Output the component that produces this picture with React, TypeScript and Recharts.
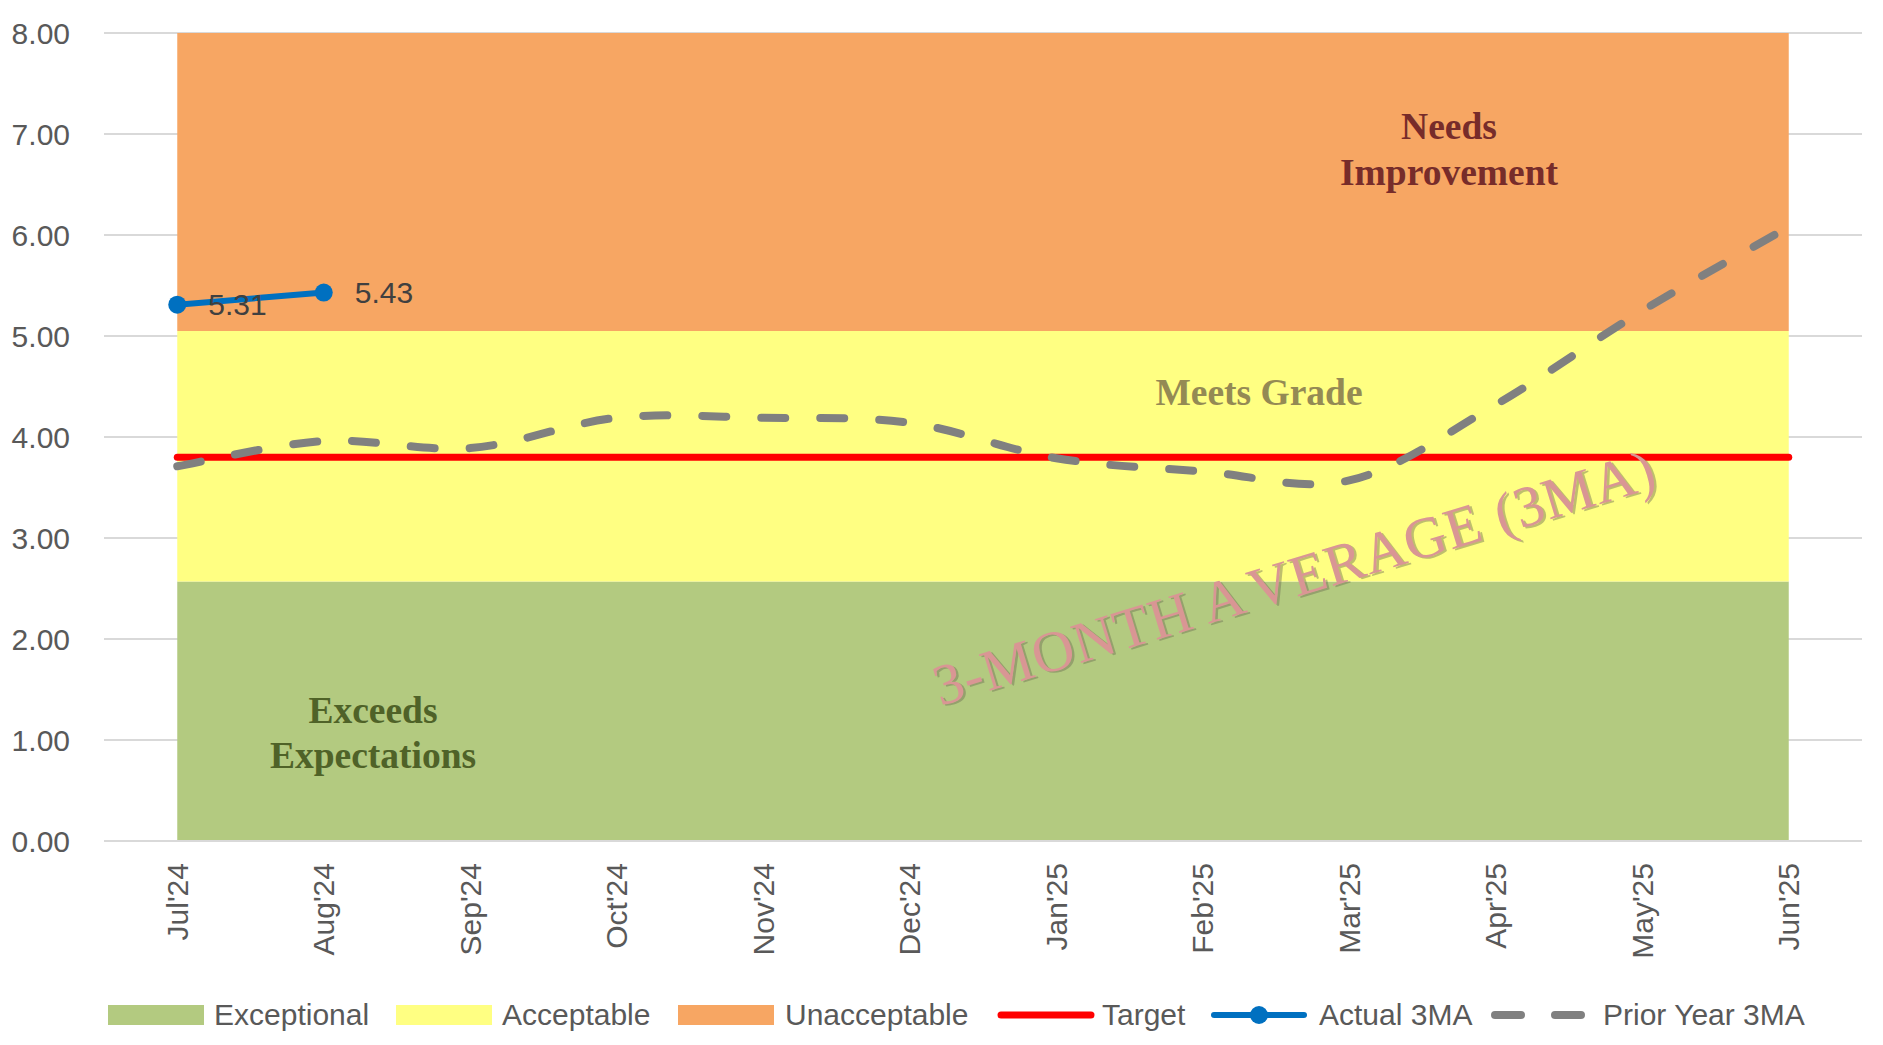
import React from 'react';
import { ComposedChart, Area, Line, XAxis, YAxis, CartesianGrid, LabelList } from 'recharts';

const months = ["Jul'24", "Aug'24", "Sep'24", "Oct'24", "Nov'24", "Dec'24", "Jan'25", "Feb'25", "Mar'25", "Apr'25", "May'25", "Jun'25"];
const exceptional = [2.57, 2.57, 2.57, 2.57, 2.57, 2.57, 2.57, 2.57, 2.57, 2.57, 2.57, 2.57];
const acceptable = [2.48, 2.48, 2.48, 2.48, 2.48, 2.48, 2.48, 2.48, 2.48, 2.48, 2.48, 2.48];
const unacceptable = [2.95, 2.95, 2.95, 2.95, 2.95, 2.95, 2.95, 2.95, 2.95, 2.95, 2.95, 2.95];
const target = [3.8, 3.8, 3.8, 3.8, 3.8, 3.8, 3.8, 3.8, 3.8, 3.8, 3.8, 3.8];
const actual3MA: (number | null)[] = [5.31, 5.43, null, null, null, null, null, null, null, null, null, null];
const priorYear3MA = [3.71, 3.96, 3.89, 4.19, 4.19, 4.14, 3.79, 3.66, 3.57, 4.32, 5.25, 6.08];
const yTicks = [0, 1, 2, 3, 4, 5, 6, 7, 8];

const rows = months.map((m, i) => ({
  month: m,
  exceptional: exceptional[i],
  acceptable: acceptable[i],
  unacceptable: unacceptable[i],
  target: target[i],
  actual: actual3MA[i],
  prior: priorYear3MA[i],
}));

const SANS = '"Liberation Sans", Arial, sans-serif';
const SERIF = '"Liberation Serif", "Times New Roman", serif';
const GREEN = '#B3CA80';
const YELLOW = '#FFFF82';
const ORANGE = '#F7A663';

// Excel-like smoothed line (Catmull-Rom style Bezier)
const excelSmooth: any = (context: any) => {
  let pts: [number, number][] = [];
  return {
    areaStart() {},
    areaEnd() {},
    lineStart() { pts = []; },
    lineEnd() {
      if (!pts.length) return;
      context.moveTo(pts[0][0], pts[0][1]);
      for (let i = 0; i < pts.length - 1; i++) {
        const p0 = pts[i - 1] || pts[i];
        const p1 = pts[i];
        const p2 = pts[i + 1];
        const p3 = pts[i + 2] || pts[i + 1];
        context.bezierCurveTo(
          p1[0] + (p2[0] - p0[0]) / 6, p1[1] + (p2[1] - p0[1]) / 6,
          p2[0] - (p3[0] - p1[0]) / 6, p2[1] - (p3[1] - p1[1]) / 6,
          p2[0], p2[1]
        );
      }
    },
    point(x: number, y: number) { pts.push([+x, +y]); },
  };
};

const XTick = (props: any) => {
  const { x, y, payload } = props;
  return (
    <text x={x} y={y} transform={`rotate(-90, ${x}, ${y})`} textAnchor="end" dominantBaseline="central"
      fill="#595959" fontSize={30} fontFamily={SANS}>{payload.value}</text>
  );
};

const legendItems = [
  { name: 'Exceptional', kind: 'rect', color: GREEN },
  { name: 'Acceptable', kind: 'rect', color: YELLOW },
  { name: 'Unacceptable', kind: 'rect', color: ORANGE },
  { name: 'Target', kind: 'line', color: '#FF0000' },
  { name: 'Actual 3MA', kind: 'dotline', color: '#0070C0' },
  { name: 'Prior Year 3MA', kind: 'dash', color: '#808080' },
];
// legend layout (page pixels): symbol start, text start
const legendSymbolX = [108, 396, 678, 997, 1210, 1491];
const legendTextX = [214, 502, 785, 1102, 1319, 1603];

const Symbol = ({ kind, color }: { kind: string; color: string }) => (
  <svg width={100} height={30} style={{ display: 'block' }}>
    {kind === 'rect' && <rect x={0} y={5} width={96} height={20} fill={color} />}
    {kind === 'line' && <line x1={4} y1={15} x2={94} y2={15} stroke={color} strokeWidth={7} strokeLinecap="round" />}
    {kind === 'dotline' && (
      <g>
        <line x1={4} y1={15} x2={94} y2={15} stroke={color} strokeWidth={6} strokeLinecap="round" />
        <circle cx={49} cy={15} r={9} fill={color} />
      </g>
    )}
    {kind === 'dash' && <line x1={4} y1={15} x2={96} y2={15} stroke={color} strokeWidth={8} strokeLinecap="round" strokeDasharray="26 34" />}
  </svg>
);

export default function App() {
  return (
    <div style={{ position: 'absolute', left: 0, top: 0, width: 1883, height: 1045, background: '#fff' }}>
      <ComposedChart width={1883} height={1045} data={rows} margin={{ top: 33, right: 21, bottom: 94, left: 0 }}>
        <CartesianGrid horizontal vertical={false} stroke="#D9D9D9" strokeWidth={2} />
        <XAxis dataKey="month" scale="band" interval={0} height={110} tickLine={false}
          axisLine={{ stroke: '#D9D9D9', strokeWidth: 2 }} tick={<XTick />} tickMargin={16} />
        <YAxis width={104} domain={[0, 8]} ticks={yTicks} tickFormatter={(v: number) => v.toFixed(2)}
          axisLine={false} tickLine={false} tickMargin={28}
          tick={{ fill: '#595959', fontSize: 30, fontFamily: SANS }} />
        <Area type="linear" dataKey="exceptional" name="Exceptional" stackId="bands" stroke="none" fill={GREEN} fillOpacity={1} isAnimationActive={false} dot={false} activeDot={false} />
        <Area type="linear" dataKey="acceptable" name="Acceptable" stackId="bands" stroke="none" fill={YELLOW} fillOpacity={1} isAnimationActive={false} dot={false} activeDot={false} />
        <Area type="linear" dataKey="unacceptable" name="Unacceptable" stackId="bands" stroke="none" fill={ORANGE} fillOpacity={1} isAnimationActive={false} dot={false} activeDot={false} />
        <Line type="linear" dataKey="target" name="Target" stroke="#FF0000" strokeWidth={7} strokeLinecap="round" dot={false} activeDot={false} isAnimationActive={false} />
        <Line type="linear" dataKey="actual" name="Actual 3MA" stroke="#0070C0" strokeWidth={6} strokeLinecap="round"
          dot={{ r: 9, fill: '#0070C0', stroke: 'none' }} activeDot={false} isAnimationActive={false} connectNulls={false}>
          <LabelList dataKey="actual" position="right" offset={31} fill="#404040" fontSize={30} fontFamily={SANS}
            formatter={(v: any) => (v == null ? '' : Number(v).toFixed(2))} />
        </Line>
        <Line type={excelSmooth} dataKey="prior" name="Prior Year 3MA" stroke="#808080" strokeWidth={8} strokeLinecap="round"
          strokeDasharray="24 35" dot={false} activeDot={false} isAnimationActive={false} />
      </ComposedChart>

      <svg width={1883} height={1045} style={{ position: 'absolute', left: 0, top: 0, pointerEvents: 'none' }}>
        <g fontFamily={SERIF} fontWeight="bold" fontSize={37.5} textAnchor="middle">
          <text x={1449} y={139} fill="#772C2A">Needs</text>
          <text x={1449} y={185} fill="#772C2A">Improvement</text>
          <text x={1259} y={405} fill="#948A54">Meets Grade</text>
          <text x={373} y={723} fill="#4F6228">Exceeds</text>
          <text x={373} y={768} fill="#4F6228">Expectations</text>
        </g>
        <g transform="translate(1300, 596) rotate(-17)" fontFamily={SERIF} fontSize={58} letterSpacing={1} textAnchor="middle">
          <text x={2} y={2} fill="#6f6f55" fillOpacity={0.45}>3-MONTH A<tspan dx={14}>VERAGE (3MA)</tspan></text>
          <text x={0} y={0} fill="#D99694">3-MONTH A<tspan dx={14}>VERAGE (3MA)</tspan></text>
        </g>
      </svg>

      {legendItems.map((it, i) => (
        <React.Fragment key={it.name}>
          <div style={{ position: 'absolute', left: legendSymbolX[i], top: 1000 }}>
            <Symbol kind={it.kind} color={it.color} />
          </div>
          <div style={{ position: 'absolute', left: legendTextX[i], top: 1000, height: 30, lineHeight: '30px', whiteSpace: 'nowrap', fontFamily: SANS, fontSize: 30, color: '#595959' }}>
            {it.name}
          </div>
        </React.Fragment>
      ))}
    </div>
  );
}
